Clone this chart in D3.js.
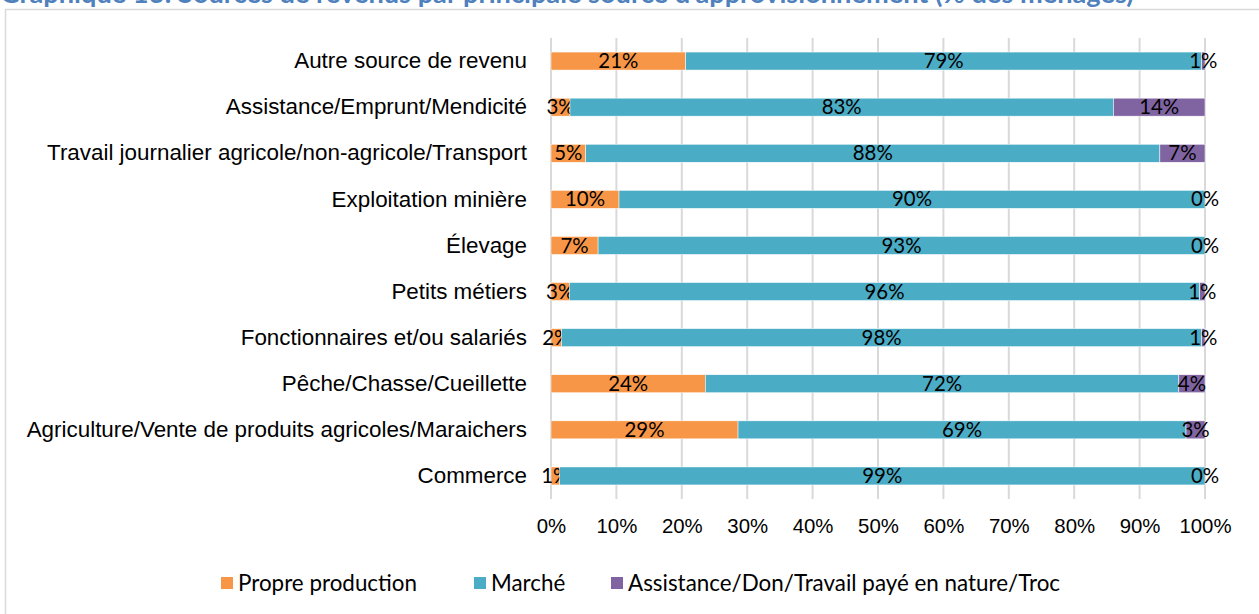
<!DOCTYPE html>
<html>
<head>
<meta charset="utf-8">
<script src="https://cdn.jsdelivr.net/npm/d3@7"></script>
<style>
  body { margin: 0; background: #fff; }
  svg { display: block; font-family: Lato, 'Open Sans', sans-serif; }
</style>
</head>
<body>
<div id="chart"></div>
<script>
// categories, top to bottom
const categories = [
  'Autre source de revenu',
  'Assistance/Emprunt/Mendicité',
  'Travail journalier agricole/non-agricole/Transport',
  'Exploitation minière',
  'Élevage',
  'Petits métiers',
  'Fonctionnaires et/ou salariés',
  'Pêche/Chasse/Cueillette',
  'Agriculture/Vente de produits agricoles/Maraichers',
  'Commerce'
]

const seriesNames = ['Propre production', 'Marché', 'Assistance/Don/Travail payé en nature/Troc']

// % of households
const propreProduction = [20.6, 2.9, 5.3, 10.4, 7.2, 2.8, 1.6, 23.6, 28.6, 1.3]
const marche = [78.9, 83.1, 87.8, 89.6, 92.8, 96.4, 97.9, 72.4, 68.5, 98.7]
const assistance = [0.5, 14.0, 6.9, 0.0, 0.0, 0.8, 0.5, 4.0, 2.9, 0.0]

const xTicks = [0, 10, 20, 30, 40, 50, 60, 70, 80, 90, 100]

const colors = ['#F79646', '#4BACC6', '#8064A2']

const config = {
  width: 1259,
  height: 614,
  left: 551,
  top: 38,
  plotWidth: 654,
  plotHeight: 461,
  labelSize: 22.4,
  numberSize: 20.4
}

const rows = categories.map((c, i) => ({
  cat: c,
  values: [propreProduction[i], marche[i], assistance[i]]
}))

const svg = d3.select('#chart').append('svg')
  .attr('width', config.width)
  .attr('height', config.height)

// title, cut at the top like the original
svg.append('text')
  .attr('x', 0)
  .attr('y', 3)
  .attr('fill', '#4F81BD')
  .attr('font-weight', 'bold')
  .attr('font-size', 27.2)
  .text('Graphique 13: Sources de revenus par principale source d\u2019approvisionnement (% des ménages)')

// chart frame
svg.append('rect')
  .attr('x', 5.5)
  .attr('y', 9.5)
  .attr('width', config.width + 10)
  .attr('height', config.height + 10)
  .attr('fill', 'none')
  .attr('stroke', '#D9D9D9')
  .attr('stroke-width', 1.5)

const x = d3.scaleLinear()
  .domain([0, 100])
  .range([0, config.plotWidth])

const y = d3.scaleBand()
  .domain(categories)
  .range([0, config.plotHeight])
  .paddingInner(0.61)
  .paddingOuter(0.305)

const g = svg.append('g')
  .attr('transform', `translate(${config.left},${config.top})`)

// grid
g.append('g')
  .selectAll('line')
  .data(xTicks)
  .join('line')
  .attr('x1', d => x(d))
  .attr('x2', d => x(d))
  .attr('y1', 0)
  .attr('y2', config.plotHeight)
  .attr('stroke', '#D9D9D9')
  .attr('stroke-width', 2)

// x axis labels
const xAxis = d3.axisBottom(x)
  .tickValues(xTicks)
  .tickSize(0)
  .tickPadding(20)
  .tickFormat(d => d + '%')

g.append('g')
  .attr('transform', `translate(0,${config.plotHeight})`)
  .call(xAxis)
  .call(a => a.select('.domain').remove())
  .selectAll('text')
  .attr('font-size', config.numberSize)
  .attr('font-family', null)
  .attr('fill', '#000')

// y axis labels
g.append('g')
  .call(d3.axisLeft(y).tickSize(0).tickPadding(24))
  .call(a => a.select('.domain').remove())
  .selectAll('text')
  .attr('font-size', config.labelSize)
  .attr('font-family', null)
  .attr('fill', '#000')

// stacked bars
const stack = d3.stack()
  .keys([0, 1, 2])
  .value((d, k) => d.values[k])

const layers = stack(rows)

const layerG = g.selectAll('.layer')
  .data(layers)
  .join('g')
  .attr('class', 'layer')
  .attr('fill', (d, i) => colors[i])

layerG.selectAll('rect')
  .data(d => d)
  .join('rect')
  .attr('x', d => x(d[0]))
  .attr('y', d => y(d.data.cat))
  .attr('width', d => x(d[1]) - x(d[0]))
  .attr('height', y.bandwidth())
  .attr('stroke', '#fff')
  .attr('stroke-width', 0.5)

layerG.selectAll('text')
  .data(d => d)
  .join('text')
  .attr('x', d => (x(d[0]) + x(d[1])) / 2)
  .attr('y', d => y(d.data.cat) + y.bandwidth() / 2)
  .attr('dy', '0.35em')
  .attr('text-anchor', 'middle')
  .attr('fill', '#000')
  .attr('font-size', config.numberSize)
  .text(d => Math.round(d[1] - d[0]) + '%')

// legend
const legendX = [221, 474, 611]
const legend = svg.append('g')
  .selectAll('g')
  .data(seriesNames)
  .join('g')
  .attr('transform', (d, i) => `translate(${legendX[i]},583)`)

legend.append('rect')
  .attr('x', 0)
  .attr('y', -6)
  .attr('width', 12)
  .attr('height', 12)
  .attr('fill', (d, i) => colors[i])

legend.append('text')
  .attr('x', 17)
  .attr('dy', '0.35em')
  .attr('font-size', config.labelSize)
  .attr('fill', '#000')
  .text(d => d)
</script>
</body>
</html>
